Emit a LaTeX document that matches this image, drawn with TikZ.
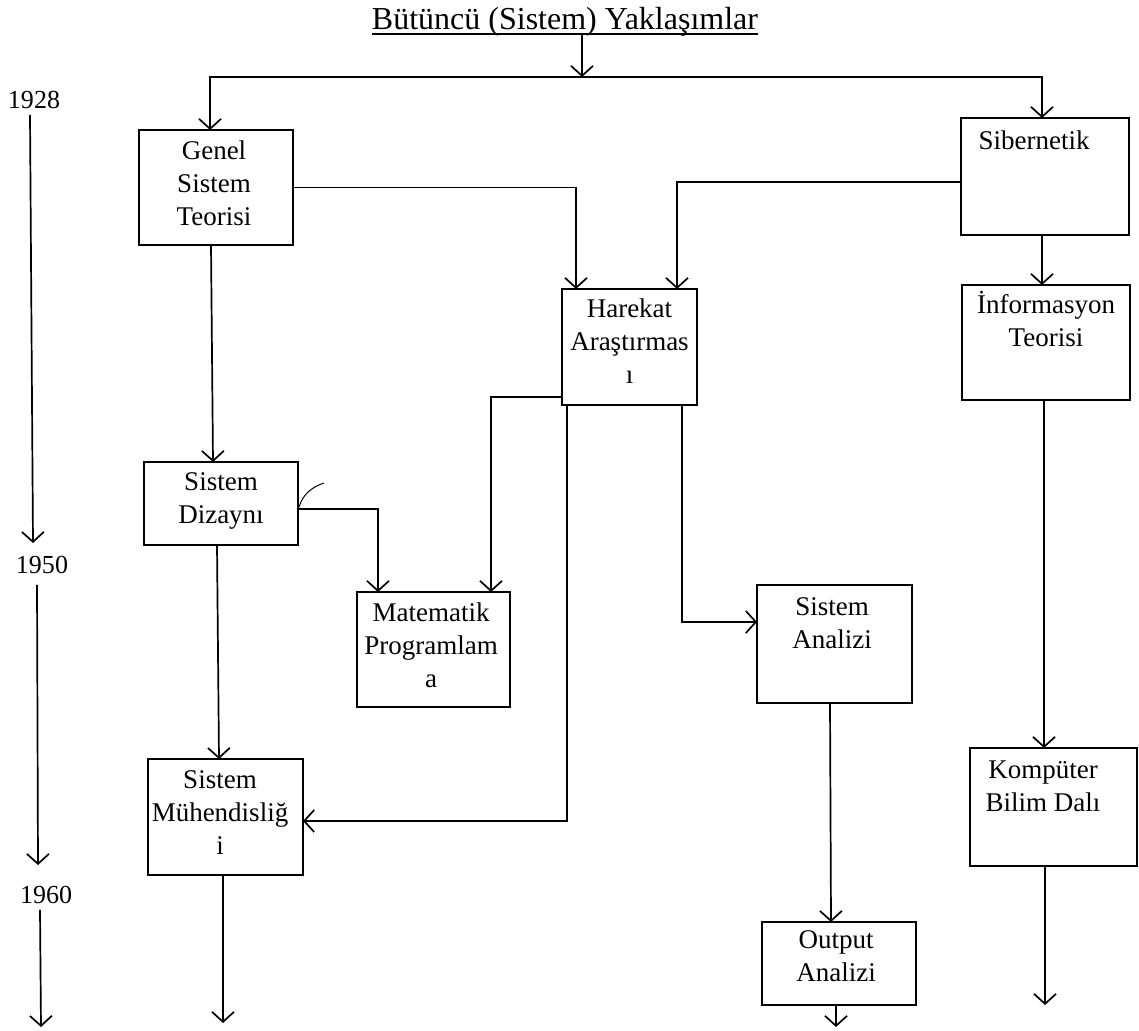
\documentclass[tikz,border=0pt]{standalone}
\usepackage{fontspec}
\setmainfont{Liberation Serif}
\usetikzlibrary{arrows.meta}
\begin{document}
\begin{tikzpicture}[x=1pt,y=-1pt,
  >={Straight Barb[length=10pt,width=22pt]},
  box/.style={draw, line width=1.8pt, inner sep=0pt, outer sep=0pt},
  txt/.style={inner sep=0pt, align=center, anchor=north, font=\fontsize{27}{33}\selectfont},
  year/.style={inner sep=0pt, font=\fontsize{26}{30}\selectfont},
  conn/.style={line width=1.7pt, ->},
  plain/.style={line width=1.7pt}
]
\fill[white] (0,0) rectangle (1139,1030);
\useasboundingbox (0,0) rectangle (1139,1030);

% title with its underline
\node[inner sep=0pt, anchor=base, font=\fontsize{32}{38}\selectfont] (title) at (565,30) {Bütüncü (Sistem) Yaklaşımlar};
\draw[plain] ([yshift=-4pt]title.base west) -- ([yshift=-4pt]title.base east) coordinate (ul);
\coordinate (bus) at (582,77);

% boxes
\node[box, minimum width=154pt, minimum height=115pt] (gst) at (216,187.5) {};
\node[box, minimum width=168pt, minimum height=117pt] (sib) at (1045,176.5) {};
\node[box, minimum width=135pt, minimum height=116pt] (har) at (629.5,347) {};
\node[box, minimum width=168pt, minimum height=115pt] (inf) at (1046,342.5) {};
\node[box, minimum width=154pt, minimum height=83pt]  (dzy) at (221,503.5) {};
\node[box, minimum width=153pt, minimum height=115pt] (mat) at (433.5,649.5) {};
\node[box, minimum width=155pt, minimum height=118pt] (ana) at (834.5,644) {};
\node[box, minimum width=155pt, minimum height=116pt] (muh) at (225.5,817) {};
\node[box, minimum width=167pt, minimum height=118pt] (kom) at (1053.5,807) {};
\node[box, minimum width=154pt, minimum height=83pt]  (out) at (839,963.5) {};

% box texts
\node[txt] (gst-t) at (214,140.5) {Genel\\Sistem\\Teorisi};
\node[txt] (sib-t) at (1034,130.5) {Sibernetik};
\node[txt] (har-t) at (629.5,298.5) {Harekat\\Araştırmas\\ı};
\node[txt] (inf-t) at (1046,291) {İnformasyon\\Teorisi};
\node[txt] (dzy-t) at (221,472.5) {Sistem\\Dizaynı};
\node[txt] (mat-t) at (431,602.5) {Matematik\\Programlam\\a};
\node[txt] (ana-t) at (832,597.5) {Sistem\\Analizi};
\node[txt] (muh-t) at (220,770.5) {Sistem\\Mühendisliğ\\i};
\node[txt] (kom-t) at (1043,760.5) {Kompüter\\Bilim Dalı};
\node[txt] (out-t) at (836,930.5) {Output\\Analizi};

% time axis
\node[year] (y1928) at (34,100) {1928};
\node[year] (y1950) at (42,565) {1950};
\node[year] (y1960) at (46,895) {1960};
\coordinate (axis-end) at (41,1027);
\draw[conn] ([xshift=-4pt,yshift=-6pt]y1928.south) -- ([xshift=-9pt,yshift=13pt]y1950.north);
\draw[conn] ([xshift=-5pt,yshift=-11pt]y1950.south) -- ([xshift=-8pt,yshift=21pt]y1960.north);
\draw[conn] ([xshift=-6pt,yshift=-6pt]y1960.south) -- (axis-end);

% connectors
\draw[conn] (ul -| bus) -- (bus);
\draw[conn] (bus) -| ([xshift=-6pt]gst.north);
\draw[conn] (bus) -| ([xshift=-3pt]sib.north);
\draw[conn] (gst.east) -| ([xshift=-53.5pt]har.north);
\draw[conn] ([yshift=-5.5pt]sib.west) -| ([xshift=47.5pt]har.north);
\draw[conn] ([xshift=-3pt]sib.south) -- ([xshift=-4pt]inf.north);
\draw[conn] ([xshift=-2pt]inf.south) -- ([xshift=-9.5pt]kom.north);
\coordinate (kom-end) at (1045,1005);
\draw[conn] ([xshift=-8.5pt]kom.south) -- (kom-end);
\draw[conn] ([xshift=-5pt]gst.south) -- ([xshift=-8pt]dzy.north);
\draw[conn] ([xshift=-4pt]dzy.south) -- ([xshift=-6.5pt]muh.north);
\draw[conn] ([yshift=-5.5pt]dzy.east) -| ([xshift=-55.5pt]mat.north);
\draw[conn] ([yshift=-50pt]har.west) -| ([xshift=57.5pt]mat.north);
\draw[conn] ([xshift=-62.5pt]har.south) |- ([yshift=-4pt]muh.east);
\draw[conn] ([xshift=52.5pt]har.south) |- ([yshift=22pt]ana.west);
\draw[conn] ([xshift=-4.5pt]ana.south) -- ([xshift=-8pt]out.north);
\coordinate (out-end) at (836,1027);
\draw[conn] ([xshift=-3pt]out.south) -- (out-end);
\coordinate (muh-end) at (223,1023);
\draw[conn] ([xshift=-2.5pt]muh.south) -- (muh-end);

% pen stroke beside the design box
\draw[line width=1pt] (299,507) .. controls (303,494) and (312,487) .. (324,483);
\end{tikzpicture}
\end{document}
